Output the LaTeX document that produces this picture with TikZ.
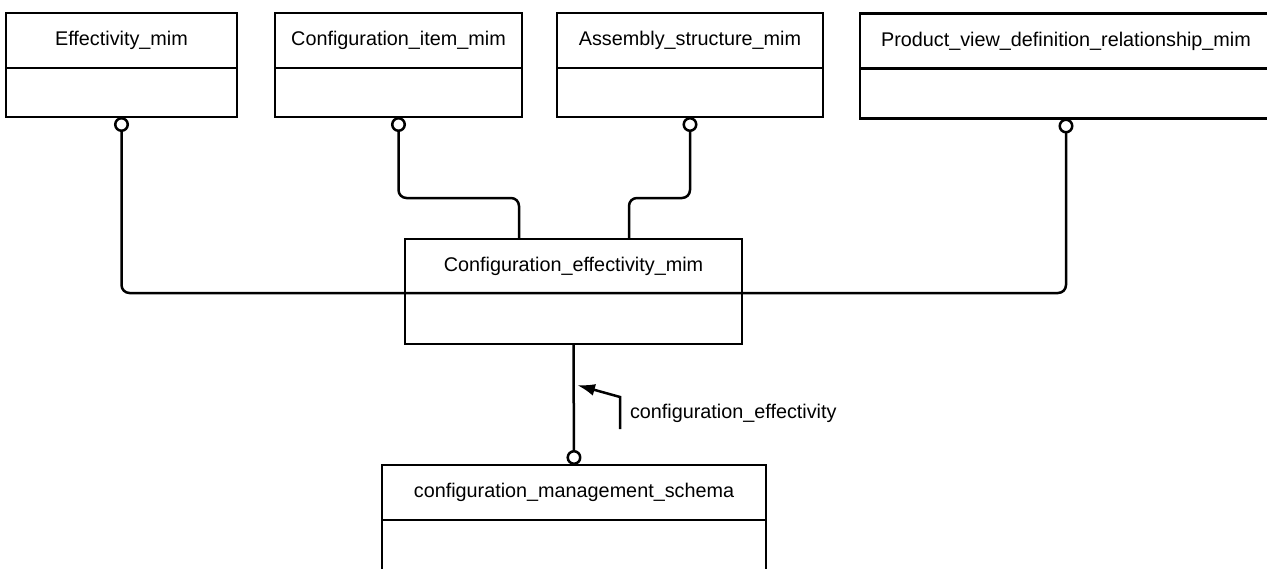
\documentclass[tikz,border=0pt]{standalone}
\usepackage{fontspec}
\setmainfont{Liberation Sans}
\usetikzlibrary{arrows.meta}

\begin{document}
\begin{tikzpicture}[x=1pt,y=1pt]
\tikzstyle{every node}+=[inner sep=0pt, outer sep=0pt, font=\fontsize{19.8}{23}\selectfont]
\tikzstyle{mimbox}=[draw=black, line width=2.5pt, rectangle]
\tikzstyle{link}=[draw=black, line width=2.5pt, rounded corners=8pt]
\tikzstyle{ring}=[arrows={Circle[open,length=15pt,width=15pt]-}]
\useasboundingbox (0,0) rectangle (1267,-568);
% upper schemas
\node[mimbox, minimum width=231pt, minimum height=55pt] (eff) at (121.5,-40.5) {Effectivity\_mim};
\node[mimbox, minimum width=231pt, minimum height=49pt, anchor=north] (effb) at (eff.south) {};
\node[mimbox, minimum width=247pt, minimum height=55pt] (ci) at (398.5,-40.5) {Configuration\_item\_mim};
\node[mimbox, minimum width=247pt, minimum height=49pt, anchor=north] (cib) at (ci.south) {};
\node[mimbox, minimum width=266pt, minimum height=55pt] (asm) at (690,-40.5) {Assembly\_structure\_mim};
\node[mimbox, minimum width=266pt, minimum height=49pt, anchor=north] (asmb) at (asm.south) {};
\node[mimbox, minimum width=412pt, minimum height=55pt] (pvd) at (1066,-41) {Product\_view\_definition\_relationship\_mim};
\node[mimbox, minimum width=412pt, minimum height=50pt, anchor=north] (pvdb) at (pvd.south) {};
% middle schema
\node[mimbox, minimum width=337pt, minimum height=54pt] (cem) at (573.5,-266) {Configuration\_effectivity\_mim};
\node[mimbox, minimum width=337pt, minimum height=51pt, anchor=north] (cemb) at (cem.south) {};
% lower schema
\node[mimbox, minimum width=384pt, minimum height=55pt] (cms) at (574,-492.5) {configuration\_management\_schema};
\node[mimbox, minimum width=384pt, minimum height=55pt, anchor=north] (cmsb) at (cms.south) {};
% references
\draw[link, arrows={Circle[open,length=15pt,width=15pt]-Circle[open,length=15pt,width=15pt]}] (effb.south) -- (effb.south |- cemb.north) -| (pvdb.south);
\draw[link, ring] (cib.south) -- ++(0,-81) -| ([xshift=-54.5pt]cem.north);
\draw[link, ring] (asmb.south) -- ++(0,-81) -| ([xshift=55.5pt]cem.north);
\draw[link, arrows={-Circle[open,length=15pt,width=15pt]}] (cemb.south) -- (cms.north);
% interface label
\node[anchor=west] (lbl) at (630,-413) {configuration\_effectivity};
\coordinate (tip) at (577,-385);
\coordinate (tail) at (620,-429);
\draw[line width=2.5pt, -{Latex[length=18pt,width=12pt]}] (tail) -- ++(0,32) -- (tip);
\end{tikzpicture}
\end{document}
